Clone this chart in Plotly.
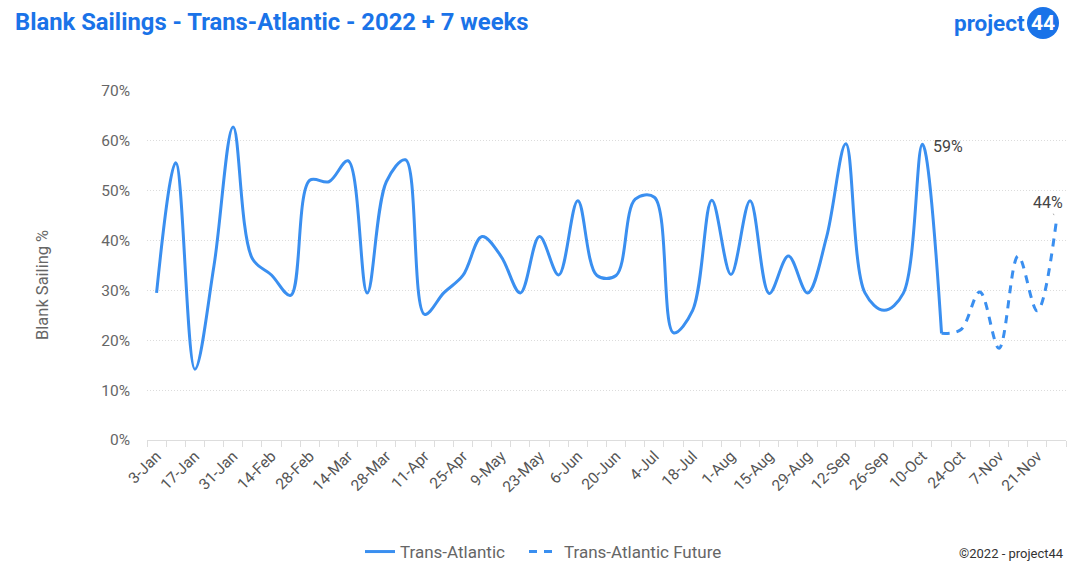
import plotly.graph_objects as go

weeks = ["3-Jan", "10-Jan", "17-Jan", "24-Jan", "31-Jan", "7-Feb", "14-Feb", "21-Feb",
         "28-Feb", "7-Mar", "14-Mar", "21-Mar", "28-Mar", "4-Apr", "11-Apr", "18-Apr",
         "25-Apr", "2-May", "9-May", "16-May", "23-May", "30-May", "6-Jun", "13-Jun",
         "20-Jun", "27-Jun", "4-Jul", "11-Jul", "18-Jul", "25-Jul", "1-Aug", "8-Aug",
         "15-Aug", "22-Aug", "29-Aug", "5-Sep", "12-Sep", "19-Sep", "26-Sep", "3-Oct",
         "10-Oct", "17-Oct", "24-Oct", "31-Oct", "7-Nov", "14-Nov", "21-Nov", "28-Nov"]

actual = [29.5, 55.6, 14.2, 35.0, 62.8, 36.4, 33.1, 29.0, 52.1, 51.8,
          56.0, 29.5, 51.8, 56.2, 25.2, 29.5, 33.0, 40.8, 36.8, 29.5,
          40.8, 33.1, 48.0, 33.0, 33.0, 48.3, 48.7, 21.5, 26.0, 48.1,
          33.2, 48.0, 29.4, 36.9, 29.5, 40.8, 59.4, 29.5, 26.0, 29.4,
          59.3, 21.4]
future_weeks = weeks[41:]
future = [21.4, 22.1, 29.7, 18.4, 36.9, 25.9, 44.0]

y_ticks = [0, 10, 20, 30, 40, 50, 60, 70]
y_tick_text = ["0%", "10%", "20%", "30%", "40%", "50%", "60%", "70%"]
tick_text = [w if i % 2 == 0 else "" for i, w in enumerate(weeks)]

blue = "#3a8ff0"
grey = "#666666"

fig = go.Figure()
fig.add_trace(go.Scatter(x=weeks[:len(actual)], y=actual, mode="lines", name="Trans-Atlantic",
                         legend="legend",
                         line=dict(color=blue, width=3, shape="spline", smoothing=1.0)))
fig.add_trace(go.Scatter(x=future_weeks, y=future, mode="lines", name="Trans-Atlantic Future",
                         legend="legend2",
                         line=dict(color=blue, width=3, shape="spline", smoothing=1.0,
                                   dash="8px,7px")))

fig.add_annotation(x=weeks[40], y=actual[40], text="59%", showarrow=False,
                   xanchor="left", yanchor="middle", xshift=9, yshift=-2,
                   font=dict(size=16, color="#444"))
fig.add_annotation(x=future_weeks[-1], y=future[-1], text="44%", showarrow=True,
                   arrowhead=0, arrowwidth=1, arrowcolor="#aaaaaa", ax=-8, ay=-18,
                   standoff=6, font=dict(size=16, color="#444"))

fig.add_annotation(xref="paper", yref="paper", x=-134 / 919, y=(440 - 22) / 349,
                   text="<b>Blank Sailings - Trans-Atlantic - 2022 + 7 weeks</b>",
                   showarrow=False, xanchor="left", yanchor="middle",
                   font=dict(family="Roboto", size=23.8, color="#1a73e8"))
fig.add_annotation(xref="paper", yref="paper", x=(42 - 147) / 919, y=(440 - 285) / 349,
                   text="Blank Sailing %", textangle=-90, showarrow=False,
                   xanchor="center", yanchor="middle",
                   font=dict(size=16.5, color=grey))
# logo
fig.add_annotation(xref="paper", yref="paper", x=(1027 - 147) / 919, y=(440 - 23) / 349,
                   text="<b>project</b>", showarrow=False, xanchor="right", yanchor="middle",
                   font=dict(family="Roboto", size=22.5, color="#1a73e8"))
fig.add_shape(type="circle", xref="paper", yref="paper",
              x0=(1027 - 147) / 919, x1=(1059 - 147) / 919,
              y0=(440 - 39) / 349, y1=(440 - 7) / 349,
              fillcolor="#1a73e8", line=dict(width=0))
fig.add_annotation(xref="paper", yref="paper", x=(1043 - 147) / 919, y=(440 - 23) / 349,
                   text="<b>44</b>", showarrow=False, xanchor="center", yanchor="middle",
                   font=dict(family="Roboto", size=21, color="white"))

fig.add_annotation(xref="paper", yref="paper", x=1.0, y=(440 - 553) / 349,
                   text="©2022 - project44", showarrow=False, xanchor="right", yanchor="middle",
                   font=dict(size=13, color="#333"))

legend_common = dict(orientation="h", xref="container", yref="container",
                     xanchor="left", y=(574 - 552) / 574, yanchor="middle",
                     font=dict(size=17, color=grey), bgcolor="rgba(0,0,0,0)")

fig.update_layout(
    width=1080, height=574,
    margin=dict(l=147, r=14, t=91, b=134),
    paper_bgcolor="white", plot_bgcolor="white",
    font=dict(family="Roboto", color=grey),
    showlegend=True,
    legend=dict(x=360 / 1080, **legend_common),
    legend2=dict(x=524 / 1080, **legend_common),
    xaxis=dict(type="category", categoryorder="array", categoryarray=weeks,
               tickmode="array", tickvals=weeks, ticktext=tick_text,
               tickson="boundaries", ticks="outside", ticklen=6, tickcolor="#dddddd",
               showline=True, linecolor="#dddddd", linewidth=1, automargin=False,
               showgrid=False, tickangle=-45, tickfont=dict(size=15.5, color="#555"),
               range=[-0.5, 47.5]),
    yaxis=dict(range=[0, 70], tickmode="array", tickvals=y_ticks, ticktext=y_tick_text,
               showgrid=True, gridcolor="#dcdcdc", griddash="1px,2px", gridwidth=1,
               zeroline=False, showline=False, tickfont=dict(size=15.5, color=grey),
               ticklabelstandoff=16, automargin=False),
)

fig.write_html("out.html")
